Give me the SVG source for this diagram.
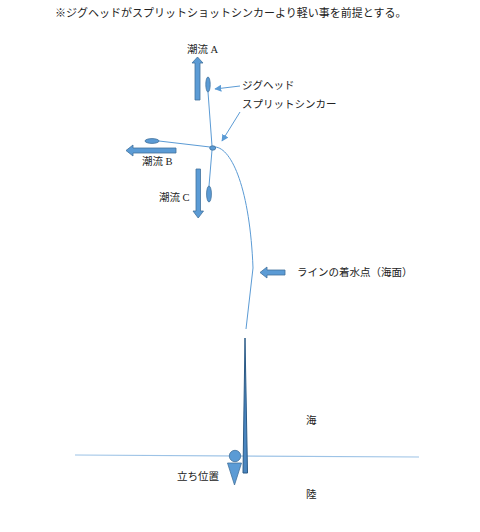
<svg xmlns="http://www.w3.org/2000/svg" width="480" height="532" viewBox="0 0 480 532">
<defs>
<style>
.t{font-family:"Liberation Serif","Noto Sans CJK JP",serif;font-size:10.5px;fill:#222}
.ln{fill:none;stroke:#5b9bd5;stroke-width:1}
.sh{fill:#5b9bd5;stroke:#41719c;stroke-width:0.8}
</style>
<marker id="ah" viewBox="0 0 10 10" refX="9" refY="5" markerWidth="7" markerHeight="7" orient="auto" markerUnits="userSpaceOnUse">
<path d="M0,0 L10,5 L0,10 z" fill="#5b9bd5"/>
</marker>
</defs>
<rect width="480" height="532" fill="#fff"/>
<text class="t" x="55" y="17" style="font-size:11px">※ジグヘッドがスプリットショットシンカーより軽い事を前提とする。</text>

<g id="connectors">
<line class="ln" x1="208" y1="92" x2="212" y2="146"/>
<line class="ln" x1="212" y1="150" x2="209" y2="186"/>
<line class="ln" x1="159" y1="141" x2="210" y2="147"/>
<path class="ln" d="M215,147 C232,148 250,190 253,268 L246,329"/>
<line class="ln" x1="240" y1="86" x2="215" y2="89" marker-end="url(#ah)"/>
<line class="ln" x1="240" y1="112" x2="222" y2="141" marker-end="url(#ah)"/>
<line x1="75" y1="455" x2="419" y2="457" stroke="#9dc3e6" stroke-width="1.2"/>
</g>

<g id="current-a">
<polygon class="sh" points="197.5,57 203,63 200,63 200,100 195,100 195,63 192,63"/>
<text class="t" x="187" y="53">潮流 A</text>
</g>
<g id="current-b">
<polygon class="sh" points="126,150.5 133,145 133,148 176,148 176,153 133,153 133,156"/>
<text class="t" x="142" y="165">潮流 B</text>
</g>
<g id="current-c">
<polygon class="sh" points="196,169 200.5,169 200.5,211 203.5,211 198.2,218 193,211 196,211"/>
<text class="t" x="159" y="201">潮流 C</text>
</g>

<g id="jig-a"><ellipse class="sh" cx="208" cy="84.5" rx="2.2" ry="7.5"/></g>
<g id="jig-b"><ellipse class="sh" cx="152" cy="141" rx="7" ry="2.4"/></g>
<g id="jig-c"><ellipse class="sh" cx="209" cy="194" rx="2.4" ry="8"/></g>
<g id="sinker"><ellipse class="sh" cx="212.7" cy="148" rx="3" ry="2.2"/></g>

<g id="label-jighead"><text class="t" x="242" y="89">ジグヘッド</text></g>
<g id="label-sinker"><text class="t" x="242" y="108">スプリットシンカー</text></g>

<g id="entry-point">
<polygon class="sh" points="260,272.5 267,267 267,270 285,270 285,275 267,275 267,278"/>
<text class="t" x="297" y="276">ラインの着水点（海面）</text>
</g>

<g id="rod"><polygon points="245,338 247.5,473 243,473" fill="#4a86c0" stroke="#2b5a86" stroke-width="1"/></g>

<g id="angler">
<circle class="sh" cx="235" cy="456" r="5.7"/>
<polygon class="sh" points="227.5,463 241.5,463 234.5,485"/>
<text class="t" x="177" y="480">立ち位置</text>
</g>

<g id="sea"><text class="t" x="306" y="424">海</text></g>
<g id="land"><text class="t" x="306" y="498">陸</text></g>
</svg>
